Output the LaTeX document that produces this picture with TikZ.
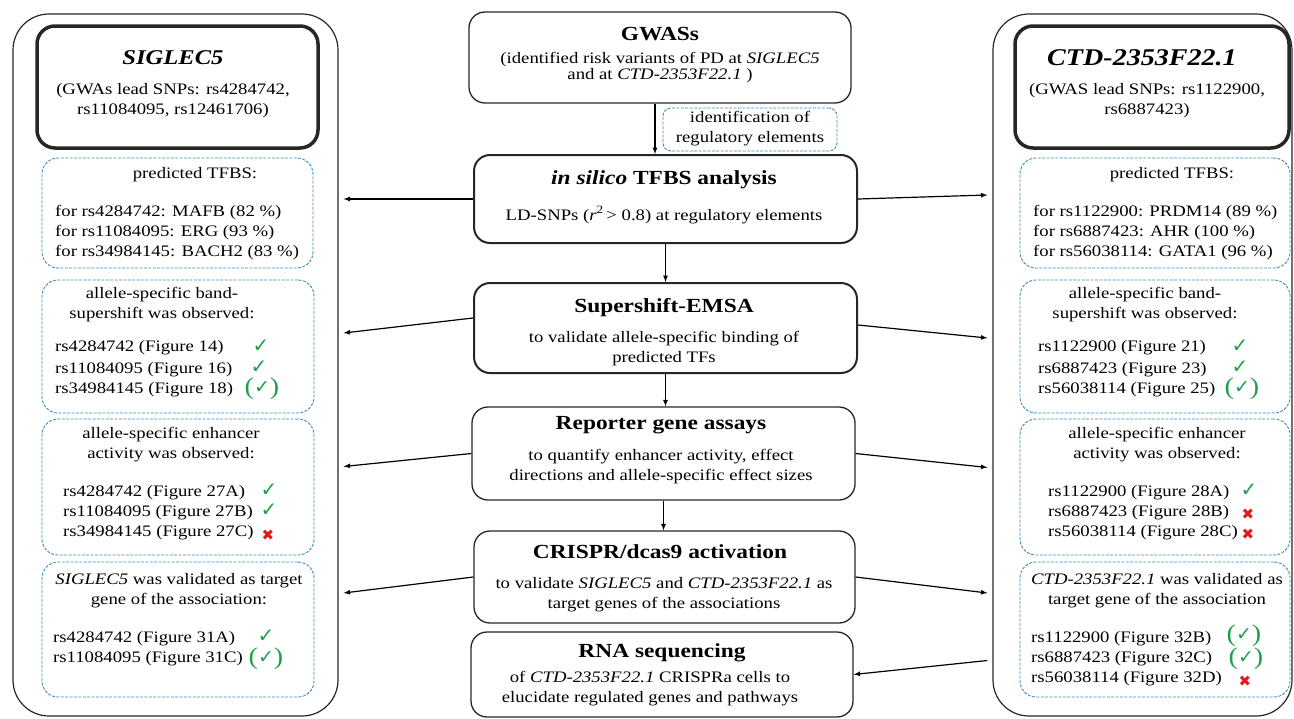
\documentclass[tikz,border=0pt]{standalone}
\usepackage{fontspec}
\setmainfont{Liberation Serif}[FakeStretch=1.17]
\newfontfamily\symfont{DejaVu Sans}
\usetikzlibrary{calc}

\definecolor{dashblue}{RGB}{60,140,190}
\definecolor{okgreen}{RGB}{30,160,75}
\definecolor{nored}{RGB}{225,25,30}

\newcommand{\yesmark}{{\color{okgreen}\symfont\fontsize{20}{20}\selectfont ✓}}
\newcommand{\maybemark}{{\color{okgreen}\fontsize{24}{24}\selectfont(\raisebox{1.5pt}{\symfont\fontsize{19}{19}\selectfont ✓})}}
\newcommand{\nomark}{{\color{nored}\symfont\fontsize{15}{15}\selectfont ✖}}

\tikzstyle{box}=[rectangle, inner sep=0pt, draw=black!85]
\tikzstyle{outer}=[box, line width=1.2pt, rounded corners=36pt]
\tikzstyle{title}=[box, line width=3.5pt, rounded corners=18pt]
\tikzstyle{stage}=[box, line width=1.3pt, rounded corners=16pt]
\tikzstyle{stagethick}=[box, line width=2pt, rounded corners=16pt]
\tikzstyle{result}=[box, draw=dashblue, line width=0.9pt, dash pattern=on 3pt off 1.4pt, rounded corners=16pt]
\tikzstyle{head}=[inner sep=0pt, font=\fontsize{20}{22}\selectfont\bfseries]
\tikzstyle{txt}=[inner sep=0pt, align=center, font=\fontsize{16}{20}\selectfont]
\tikzstyle{rs}=[inner sep=0pt, anchor=west, font=\fontsize{16}{20}\selectfont]
\tikzstyle{verdict}=[inner sep=0pt]
\tikzstyle{arrow}=[line width=1.2pt, -latex]

\begin{document}
\begin{tikzpicture}[x=1pt, y=-1pt]
  \useasboundingbox (0,0) rectangle (1294,718);

  \node[outer, minimum width=325pt, minimum height=702pt] (sigout) at (175.5,365) {};
  \node[title, minimum width=281pt, minimum height=122pt] (sigtitle) at (177.5,87) {};
  \node[result, minimum width=271pt, minimum height=110pt] (sigtfbs) at (177.5,213) {};
  \node[result, minimum width=272pt, minimum height=133pt] (sigband) at (178,346.5) {};
  \node[result, minimum width=272pt, minimum height=136pt] (sigenh) at (178,487) {};
  \node[result, minimum width=272pt, minimum height=135pt] (sigval) at (178,629.5) {};

  \node[head, font=\fontsize{21}{22}\selectfont\bfseries] (sighead) at (173,58) {\itshape SIGLEC5};
  \node[txt] (siglead) at (173,101) {(GWAs lead SNPs: rs4284742,\\rs11084095, rs12461706)};
  \node[txt] (sigtfbshead) at (195,175) {predicted TFBS:};
  \node[rs, align=left] (sigtfbslist) at (55,233) {for rs4284742: MAFB (82 \%)\\for rs11084095: ERG (93 \%)\\for rs34984145: BACH2 (83 \%)};
  \node[txt] (sigbandhead) at (162,305) {allele-specific band-\\supershift was observed:};
  \node[rs] (sigband1) at (55,348) {rs4284742 (Figure 14)};
  \node[rs] (sigband2) at (55,370) {rs11084095 (Figure 16)};
  \node[rs] (sigband3) at (55,390) {rs34984145 (Figure 18)};
  \node[verdict] (sigbandm1) at (261,346) {\yesmark};
  \node[verdict] (sigbandm2) at (259,367) {\yesmark};
  \node[verdict] (sigbandm3) at (262,389) {\maybemark};
  \node[txt] (sigenhhead) at (171,445) {allele-specific enhancer\\activity was observed:};
  \node[rs] (sigenh1) at (63,493) {rs4284742 (Figure 27A)};
  \node[rs] (sigenh2) at (63,513) {rs11084095 (Figure 27B)};
  \node[rs] (sigenh3) at (63,533) {rs34984145 (Figure 27C)};
  \node[verdict] (sigenhm1) at (269,490) {\yesmark};
  \node[verdict] (sigenhm2) at (269,510) {\yesmark};
  \node[verdict] (sigenhm3) at (268,535) {\nomark};
  \node[txt] (sigvalhead) at (179,591) {\textit{SIGLEC5} was validated as target\\gene of the association:};
  \node[rs] (sigval1) at (53,639) {rs4284742 (Figure 31A)};
  \node[rs] (sigval2) at (53,659) {rs11084095 (Figure 31C)};
  \node[verdict] (sigvalm1) at (266,636) {\yesmark};
  \node[verdict] (sigvalm2) at (266,659) {\maybemark};

  \node[outer, minimum width=299pt, minimum height=702pt] (ctdout) at (1142.5,365) {};
  \node[title, minimum width=274pt, minimum height=122pt] (ctdtitle) at (1152,87) {};
  \node[result, minimum width=270pt, minimum height=110pt] (ctdtfbs) at (1155,213) {};
  \node[result, minimum width=270pt, minimum height=133pt] (ctdband) at (1155,346.5) {};
  \node[result, minimum width=270pt, minimum height=136pt] (ctdenh) at (1155,487) {};
  \node[result, minimum width=270pt, minimum height=135pt] (ctdval) at (1155,629.5) {};

  \node[head, font=\fontsize{24}{24}\selectfont\bfseries] (ctdhead) at (1142,58) {\itshape CTD-2353F22.1};
  \node[txt] (ctdlead) at (1147,101) {(GWAS lead SNPs: rs1122900,\\rs6887423)};
  \node[txt] (ctdtfbshead) at (1172,175) {predicted TFBS:};
  \node[rs, align=left] (ctdtfbslist) at (1033,233) {for rs1122900: PRDM14 (89 \%)\\for rs6887423: AHR (100 \%)\\for rs56038114: GATA1 (96 \%)};
  \node[txt] (ctdbandhead) at (1145,305) {allele-specific band-\\supershift was observed:};
  \node[rs] (ctdband1) at (1038,348) {rs1122900 (Figure 21)};
  \node[rs] (ctdband2) at (1038,370) {rs6887423 (Figure 23)};
  \node[rs] (ctdband3) at (1038,390) {rs56038114 (Figure 25)};
  \node[verdict] (ctdbandm1) at (1240,346) {\yesmark};
  \node[verdict] (ctdbandm2) at (1240,367) {\yesmark};
  \node[verdict] (ctdbandm3) at (1242,389) {\maybemark};
  \node[txt] (ctdenhhead) at (1157,445) {allele-specific enhancer\\activity was observed:};
  \node[rs] (ctdenh1) at (1048,493) {rs1122900 (Figure 28A)};
  \node[rs] (ctdenh2) at (1048,513) {rs6887423 (Figure 28B)};
  \node[rs] (ctdenh3) at (1048,533) {rs56038114 (Figure 28C)};
  \node[verdict] (ctdenhm1) at (1249,490) {\yesmark};
  \node[verdict] (ctdenhm2) at (1248,514) {\nomark};
  \node[verdict] (ctdenhm3) at (1248,534) {\nomark};
  \node[txt] (ctdvalhead) at (1157,591) {\textit{CTD-2353F22.1} was validated as\\target gene of the association};
  \node[rs] (ctdval1) at (1031,639) {rs1122900 (Figure 32B)};
  \node[rs] (ctdval2) at (1031,659) {rs6887423 (Figure 32C)};
  \node[rs] (ctdval3) at (1031,679) {rs56038114 (Figure 32D)};
  \node[verdict] (ctdvalm1) at (1244,636) {\maybemark};
  \node[verdict] (ctdvalm2) at (1246,659) {\maybemark};
  \node[verdict] (ctdvalm3) at (1245,681) {\nomark};

  \node[stage, minimum width=382pt, minimum height=91pt] (gwas) at (660,57.5) {};
  \node[result, minimum width=174pt, minimum height=43pt, rounded corners=8pt] (ident) at (750,129.5) {};
  \node[stagethick, minimum width=383pt, minimum height=88pt] (tfbs) at (665.5,199) {};
  \node[stagethick, minimum width=383pt, minimum height=90pt] (emsa) at (665.5,328) {};
  \node[stage, minimum width=383pt, minimum height=93pt] (rep) at (663.5,453.5) {};
  \node[stage, minimum width=381pt, minimum height=92pt] (crispr) at (664.5,577) {};
  \node[stage, minimum width=382pt, minimum height=85pt] (rna) at (662,674.5) {};

  \node[head] (gwashead) at (660,34) {GWASs};
  \node[txt, font=\fontsize{16}{16}\selectfont] (gwastxt) at (660,68) {(identified risk variants of PD at \textit{SIGLEC5}\\and at \textit{CTD-2353F22.1} )};
  \node[txt] (identtxt) at (750,129) {identification of\\regulatory elements};
  \node[head] (tfbshead) at (664,180) {\itshape in silico \upshape TFBS analysis};
  \node[txt] (tfbstxt) at (664,215) {LD-SNPs (\textit{r}\textsuperscript{2}\,> 0.8) at regulatory elements};
  \node[head] (emsahead) at (664,308) {Supershift-EMSA};
  \node[txt] (emsatxt) at (664,349) {to validate allele-specific binding of\\predicted TFs};
  \node[head] (rephead) at (661,425) {Reporter gene assays};
  \node[txt] (reptxt) at (661,466.5) {to quantify enhancer activity, effect\\directions and allele-specific effect sizes};
  \node[head] (crisprhead) at (660,552) {CRISPR/dcas9 activation};
  \node[txt] (crisprtxt) at (664,594.5) {to validate \textit{SIGLEC5} and \textit{CTD-2353F22.1} as\\target genes of the associations};
  \node[head] (rnahead) at (662,653) {RNA sequencing};
  \node[txt] (rnatxt) at (650,689) {of \textit{CTD-2353F22.1} CRISPRa cells to\\elucidate regulated genes and pathways};

  \draw[arrow] ([xshift=-5pt]gwas.south) -- ([xshift=-5pt]gwas.south |- tfbs.north);
  \draw[arrow] (tfbs.south) -- (emsa.north);
  \draw[arrow] (emsa.south) -- (emsa.south |- rep.north);
  \draw[arrow] (rep.south) -- (rep.south |- crispr.north);

  \draw[arrow] (tfbs.west) -- ($(tfbs.west -| sigout.east)+(5,0)$);
  \draw[arrow] (tfbs.east) -- ($(tfbs.east -| ctdout.west)+(-5,-4)$);
  \draw[arrow] ($(emsa.west)+(0,-10)$) -- ($(emsa.west -| sigout.east)+(5,5)$);
  \draw[arrow] ($(emsa.east)+(0,-3)$) -- ($(emsa.east -| ctdout.west)+(-5,10)$);
  \draw[arrow] (rep.west) -- ($(rep.west -| sigout.east)+(5,13)$);
  \draw[arrow] (rep.east) -- ($(rep.east -| ctdout.west)+(-5,14)$);
  \draw[arrow] (crispr.west) -- ($(crispr.west -| sigout.east)+(5,16)$);
  \draw[arrow] (crispr.east) -- ($(crispr.east -| ctdout.west)+(-5,16)$);
  \draw[arrow] ($(rna.east -| ctdout.west)+(-5,-14)$) -- (rna.east);
\end{tikzpicture}
\end{document}
